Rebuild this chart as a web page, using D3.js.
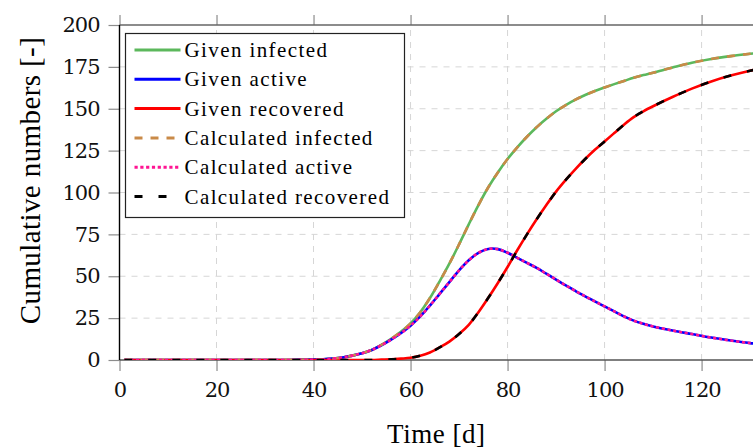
<!DOCTYPE html>
<html>
<head>
<meta charset="utf-8">
<script src="https://cdn.jsdelivr.net/npm/d3@7"></script>
<style>
  body { margin: 0; background: #fff; }
  svg { display: block; font-family: "Liberation Serif", "DejaVu Serif", serif; }
</style>
</head>
<body>
<svg id="chart"></svg>
<script>
// time axis values [d]
const days = [1, 5, 10, 15, 20, 25, 30, 35, 40, 42, 44, 46, 48, 50, 52, 54, 56, 58, 60,
  62, 64, 66, 68, 70, 72, 74, 76, 78, 80, 82, 84, 86, 88, 90, 92, 94, 96, 98, 100,
  102, 104, 106, 108, 110, 114, 118, 122, 126, 130, 133];

const givenActive = [0, 0, 0, 0, 0, 0, 0, 0, 0.2, 0.4, 0.8, 1.5, 2.6, 4, 6, 8.8, 12.2, 16, 20.5,
  26, 32.5, 39.5, 46.5, 53.5, 59.5, 64, 66.3, 66.2, 64, 61, 58, 55, 51.5, 48, 44.5, 41.2, 38, 35, 32,
  29, 26, 23.5, 21.6, 20, 17.6, 15.5, 13.4, 11.6, 10.1, 9.3];

const givenRecovered = [0, 0, 0, 0, 0, 0, 0, 0, 0, 0, 0, 0, 0, 0, 0, 0.2, 0.4, 0.8, 1.3,
  2.5, 4.5, 7.5, 11, 15.5, 21, 28.5, 37, 46, 55.5, 65.5, 75, 84, 92.5, 100.5, 107.5, 114, 120, 125.5, 130.5,
  135.5, 140.5, 145, 148.5, 151.5, 157, 162, 166.3, 169.8, 172.7, 174.5];

const givenInfected = [0, 0, 0, 0, 0, 0, 0, 0, 0.2, 0.4, 0.8, 1.5, 2.6, 4, 6, 9, 12.6, 16.8, 21.8,
  28.5, 37, 47, 57.5, 69, 81, 92.5, 103, 112, 120, 127, 133.3, 139, 144, 148.5, 152.2, 155.4, 158.2, 160.6, 162.7,
  164.7, 166.6, 168.5, 170.1, 171.5, 174.6, 177.5, 179.7, 181.4, 182.8, 183.8];

const calcInfected = [0, 0, 0, 0, 0, 0, 0, 0, 0.2, 0.4, 0.8, 1.5, 2.6, 4, 6, 9, 12.6, 16.8, 21.8,
  28.5, 37, 47, 57.5, 69, 81, 92.5, 103, 112, 120, 127, 133.3, 139, 144, 148.5, 152.2, 155.4, 158.2, 160.6, 162.7,
  164.7, 166.6, 168.5, 170.1, 171.5, 174.6, 177.5, 179.7, 181.4, 182.8, 183.8];

const calcActive = [0, 0, 0, 0, 0, 0, 0, 0, 0.2, 0.4, 0.8, 1.5, 2.6, 4, 6, 8.8, 12.2, 16, 20.5,
  26, 32.5, 39.5, 46.5, 53.5, 59.5, 64, 66.3, 66.2, 64, 61, 58, 55, 51.5, 48, 44.5, 41.2, 38, 35, 32,
  29, 26, 23.5, 21.6, 20, 17.6, 15.5, 13.4, 11.6, 10.1, 9.3];

const calcRecovered = [0, 0, 0, 0, 0, 0, 0, 0, 0, 0, 0, 0, 0, 0, 0, 0.2, 0.4, 0.8, 1.3,
  2.5, 4.5, 7.5, 11, 15.5, 21, 28.5, 37, 46, 55.5, 65.5, 75, 84, 92.5, 100.5, 107.5, 114, 120, 125.5, 130.5,
  135.5, 140.5, 145, 148.5, 151.5, 157, 162, 166.3, 169.8, 172.7, 174.5];

const xTicks = [0, 20, 40, 60, 80, 100, 120];
const yTicks = [0, 25, 50, 75, 100, 125, 150, 175, 200];

const seriesNames = ['Given infected', 'Given active', 'Given recovered',
  'Calculated infected', 'Calculated active', 'Calculated recovered'];
const seriesValues = [givenInfected, givenActive, givenRecovered, calcInfected, calcActive, calcRecovered];
const seriesStyles = [
  {color: '#5cb85c', dash: null},
  {color: '#0000ff', dash: null},
  {color: '#ff0000', dash: null},
  {color: '#c98a48', dash: '8,8'},
  {color: '#ff1493', dash: '3.2,2.6'},
  {color: '#000000', dash: '8,16'}
];

const W = 753, H = 448;
const margin = {top: 25, right: 0, bottom: 88, left: 119.5};

const svg = d3.select('#chart').attr('width', W).attr('height', H);

const xScale = d3.scaleLinear().domain([0, 130.6]).range([margin.left, W - margin.right]);
const yScale = d3.scaleLinear().domain([0, 200]).range([H - margin.bottom, margin.top]);

svg.append('clipPath').attr('id', 'clip')
  .append('rect')
    .attr('x', margin.left).attr('y', margin.top)
    .attr('width', W - margin.left - margin.right)
    .attr('height', H - margin.top - margin.bottom);

// grid
const grid = svg.append('g').attr('stroke', '#d6d6d6').attr('stroke-width', 1).attr('stroke-dasharray', '6,6');
grid.selectAll('.vg').data(xTicks.slice(1)).join('line')
  .attr('x1', d => xScale(d)).attr('x2', d => xScale(d))
  .attr('y1', yScale(0)).attr('y2', yScale(200));
grid.selectAll('.hg').data(yTicks.slice(1, -1)).join('line')
  .attr('x1', xScale(0)).attr('x2', W)
  .attr('y1', d => yScale(d)).attr('y2', d => yScale(d));

// axes
const xAxis = d3.axisBottom(xScale).tickValues(xTicks).tickSize(11).tickSizeOuter(0).tickPadding(6);
const xAxisTop = d3.axisTop(xScale).tickValues(xTicks).tickSize(10).tickSizeOuter(0).tickFormat('');
const yAxis = d3.axisLeft(yScale).tickValues(yTicks).tickSize(11).tickSizeOuter(0).tickPadding(9);

const xAxisG = svg.append('g').attr('transform', `translate(0,${yScale(0)})`).call(xAxis);
const xAxisTopG = svg.append('g').attr('transform', `translate(0,${yScale(200)})`).call(xAxisTop);
const yAxisG = svg.append('g').attr('transform', `translate(${xScale(0)},0)`).call(yAxis);

[xAxisG, xAxisTopG, yAxisG].forEach(g => {
  g.attr('font-family', '"DejaVu Serif", serif').attr('font-size', 21);
  g.select('.domain').remove();
  g.selectAll('.tick line').attr('stroke', '#8c8c8c').attr('stroke-width', 1.2);
  g.selectAll('.tick text').attr('fill', '#111').attr('letter-spacing', -1);
});
xAxisG.selectAll('.tick text').attr('dy', '0.95em');

// axis frame lines
svg.append('line').attr('x1', xScale(0)).attr('x2', W)
  .attr('y1', yScale(0)).attr('y2', yScale(0)).attr('stroke', '#555').attr('stroke-width', 1.4);
svg.append('line').attr('x1', xScale(0)).attr('x2', W)
  .attr('y1', yScale(200)).attr('y2', yScale(200)).attr('stroke', '#666').attr('stroke-width', 1.4);
svg.append('line').attr('x1', xScale(0)).attr('x2', xScale(0))
  .attr('y1', yScale(0)).attr('y2', yScale(200)).attr('stroke', '#000').attr('stroke-width', 1.4);

// curves
const line = d3.line()
  .x((d, i) => xScale(days[i]))
  .y(d => yScale(d))
  .curve(d3.curveCatmullRom.alpha(0.5));

svg.append('g').attr('clip-path', 'url(#clip)')
  .selectAll('path').data(seriesValues).join('path')
    .attr('d', line)
    .attr('fill', 'none')
    .attr('stroke', (d, i) => seriesStyles[i].color)
    .attr('stroke-width', 2.6)
    .attr('stroke-dasharray', (d, i) => seriesStyles[i].dash);

// axis titles
svg.append('text')
  .attr('x', (xScale(0) + W) / 2).attr('y', 443)
  .attr('text-anchor', 'middle').attr('font-size', 27).attr('letter-spacing', 0.5)
  .text('Time [d]');

svg.append('text')
  .attr('transform', `translate(40,${(yScale(0) + yScale(200)) / 2 - 12}) rotate(-90)`)
  .attr('text-anchor', 'middle').attr('font-size', 29).attr('letter-spacing', 0.4)
  .text('Cumulative numbers [-]');

// legend
const legend = svg.append('g').attr('transform', 'translate(125.5,33.5)');
legend.append('rect').attr('width', 279).attr('height', 184)
  .attr('fill', '#fff').attr('stroke', '#222').attr('stroke-width', 1.2);

const entries = legend.selectAll('.entry').data(seriesNames).join('g')
  .attr('transform', (d, i) => `translate(0,${16.5 + i * 29.3})`);
entries.append('line')
  .attr('x1', 9).attr('x2', 55)
  .attr('stroke', (d, i) => seriesStyles[i].color)
  .attr('stroke-width', 3)
  .attr('stroke-dasharray', (d, i) => seriesStyles[i].dash);
entries.append('text')
  .attr('x', 59).attr('y', 7)
  .attr('font-size', 21).attr('letter-spacing', 1.4)
  .text(d => d);
</script>
</body>
</html>
